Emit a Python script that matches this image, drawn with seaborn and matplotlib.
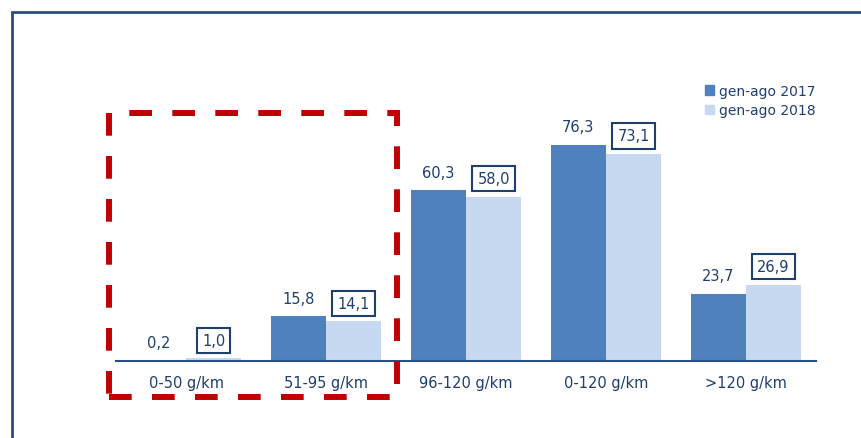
import matplotlib
matplotlib.use("Agg")
import matplotlib.pyplot as plt
from matplotlib.patches import Rectangle
from matplotlib.lines import Line2D
import pandas as pd
import seaborn as sns

categories = ["0-50 g/km", "51-95 g/km", "96-120 g/km", "0-120 g/km", ">120 g/km"]
series_names = ["gen-ago 2017", "gen-ago 2018"]
values_2017 = [0.2, 15.8, 60.3, 76.3, 23.7]
values_2018 = [1.0, 14.1, 58.0, 73.1, 26.9]

C2017 = "#4F81BD"
C2018 = "#C6D9F1"
TXT = "#1F3F6E"
FRAME = "#2B4F81"

df = pd.DataFrame({
    "cat": categories * 2,
    "serie": [series_names[0]] * 5 + [series_names[1]] * 5,
    "val": values_2017 + values_2018,
})

sns.set_style("white")
plt.rcParams["font.family"] = ["DejaVu Sans"]

fig = plt.figure(figsize=(8.62, 4.39), dpi=100)
ax = fig.add_axes([0.1346, 0.1754, 0.812, 0.581])

sns.barplot(data=df, x="cat", y="val", hue="serie", order=categories,
            hue_order=series_names, palette=[C2017, C2018], width=0.79,
            saturation=1, linewidth=0, ax=ax, legend=False)

ax.set_xlim(-0.5, 4.5)
ax.set_ylim(0, 90)
ax.set_xlabel("")
ax.set_ylabel("")
ax.set_yticks([])
for s in ["top", "right", "left"]:
    ax.spines[s].set_visible(False)
ax.spines["bottom"].set_color(FRAME)
ax.spines["bottom"].set_linewidth(1.5)
ax.tick_params(axis="x", length=0, pad=10, labelsize=10.5, labelcolor=TXT)

# value labels: 2017 plain, 2018 boxed
c17, c18 = ax.containers
for bar, v in zip(c17, values_2017):
    ax.annotate(f"{v:.1f}".replace(".", ","),
                (bar.get_x() + bar.get_width() / 2, bar.get_height()),
                xytext=(0, 7.5), textcoords="offset points",
                ha="center", va="bottom", fontsize=10.5, color=TXT)
for bar, v in zip(c18, values_2018):
    ax.annotate(f"{v:.1f}".replace(".", ","),
                (bar.get_x() + bar.get_width() / 2, bar.get_height()),
                xytext=(0, 7.5), textcoords="offset points",
                ha="center", va="bottom", fontsize=10.5, color=TXT,
                bbox=dict(boxstyle="square,pad=0.35", fc="white", ec=TXT, lw=1.5))

handles = [Rectangle((0, 0), 1, 1, color=C2017), Rectangle((0, 0), 1, 1, color=C2018)]
leg = fig.legend(handles, series_names, loc="upper left",
                 bbox_to_anchor=(0.803, 0.835), frameon=False, fontsize=10,
                 handlelength=0.65, handleheight=0.65, handletextpad=0.4,
                 labelspacing=0.4)
for t in leg.get_texts():
    t.set_color(TXT)

# outer frame (top and left only, as cropped)
fig.add_artist(Line2D([12 / 862, 12 / 862], [0, 1 - 13 / 439],
                      transform=fig.transFigure, color=FRAME, lw=2))
fig.add_artist(Line2D([12 / 862, 1], [1 - 13 / 439, 1 - 13 / 439],
                      transform=fig.transFigure, color=FRAME, lw=2))

# red dashed highlight box
fig.add_artist(Rectangle((109 / 862, 1 - 398 / 439), (397 - 109) / 862,
                         (398 - 114) / 439, transform=fig.transFigure,
                         fill=False, ec="#C00000", lw=4.3,
                         linestyle=(0, (3.8, 3.4))))

fig.savefig("out.png", dpi=100)
